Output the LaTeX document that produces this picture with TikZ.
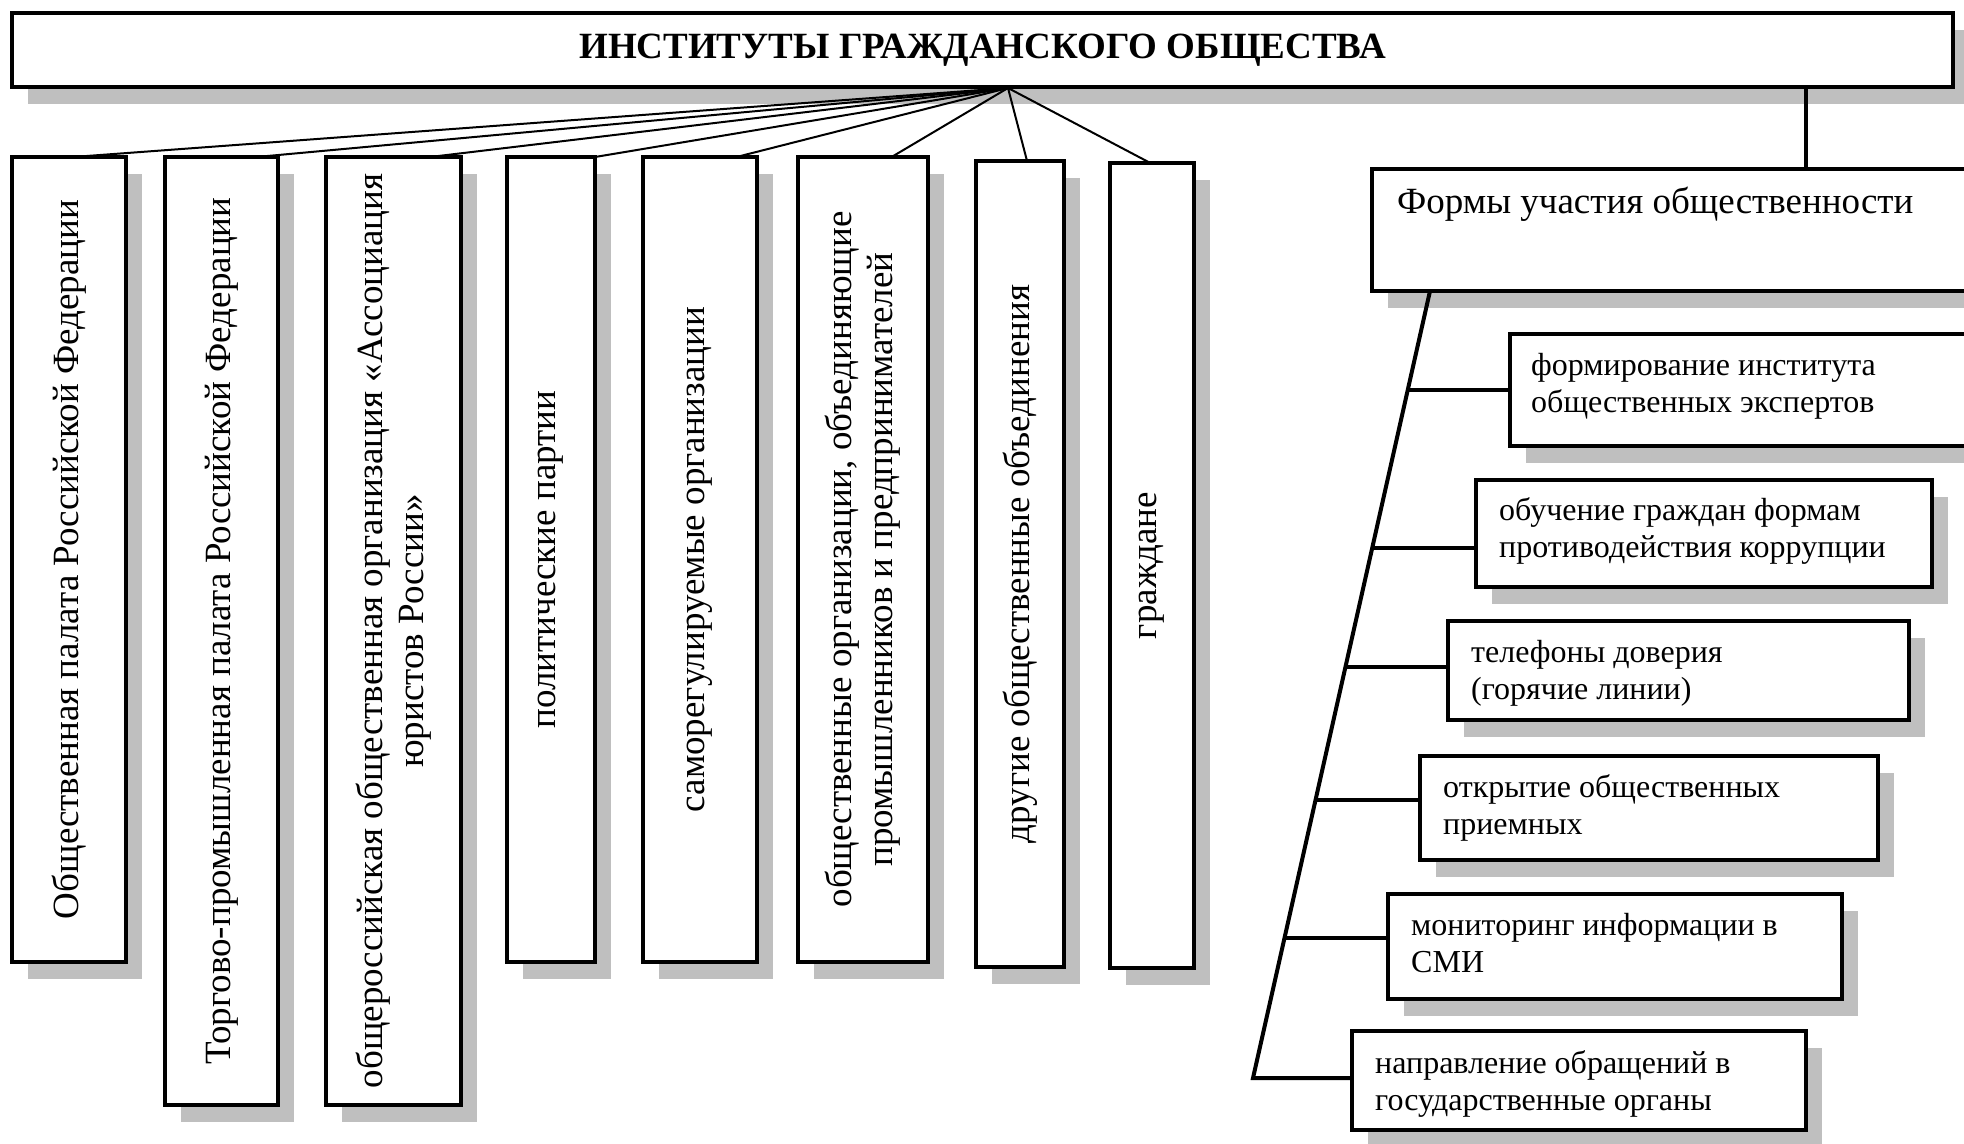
\documentclass[tikz,border=0pt]{standalone}
\usepackage{fontspec}
\setmainfont{Liberation Serif}
\usetikzlibrary{shadows,calc}
\definecolor{shd}{HTML}{BFBFBF}
\tikzset{
  bx/.style={draw=black, line width=4pt, fill=white, outer sep=0pt, inner sep=0pt,
    anchor=north west,
    drop shadow={shadow xshift=16pt, shadow yshift=-17pt, fill=shd, opacity=1}},
  vt/.style={rotate=90, align=center, inner sep=0pt, font=\fontsize{37}{41}\selectfont},
  ht/.style={align=left, anchor=west, inner sep=0pt, font=\fontsize{32}{37}\selectfont},
  fan/.style={line width=2pt},
  con/.style={line width=4pt},
}
\begin{document}
\begin{tikzpicture}[x=1pt,y=-1pt]
\useasboundingbox (0,0) rectangle (1964,1143);
\clip (0,0) rectangle (1964,1143);
% title
\node[bx, minimum width=1941pt, minimum height=74pt, font=\bfseries\fontsize{37}{40}\selectfont] (title) at (12,13) {ИНСТИТУТЫ ГРАЖДАНСКОГО ОБЩЕСТВА};
% vertical boxes
\node[bx, minimum width=114pt, minimum height=805pt] (v1) at (12,157) {};
\node[bx, minimum width=113pt, minimum height=948pt] (v2) at (165,157) {};
\node[bx, minimum width=135pt, minimum height=948pt] (v3) at (326,157) {};
\node[bx, minimum width=88pt, minimum height=805pt] (v4) at (507,157) {};
\node[bx, minimum width=114pt, minimum height=805pt] (v5) at (643,157) {};
\node[bx, minimum width=130pt, minimum height=805pt] (v6) at (798,157) {};
\node[bx, minimum width=88pt, minimum height=806pt] (v7) at (976,161) {};
\node[bx, minimum width=84pt, minimum height=805pt] (v8) at (1110,163) {};
\node[vt] (v1t) at (v1.center) {Общественная палата Российской Федерации};
\node[vt] (v2t) at (v2.center) {Торгово-промышленная палата Российской Федерации};
\node[vt] (v3t) at (v3.center) {общероссийская общественная организация «Ассоциация\\юристов России»};
\node[vt] (v4t) at (v4.center) {политические партии};
\node[vt] (v5t) at (v5.center) {саморегулируемые организации};
\node[vt] (v6t) at (v6.center) {общественные организации, объединяющие\\промышленников и предпринимателей};
\node[vt] (v7t) at (v7.center) {другие общественные объединения};
\node[vt] (v8t) at (v8.center) {граждане};
% fan
\coordinate (ap) at (1008,88);
\draw[fan] (ap) -- ($(v1.north west)!0.535!(v1.north east)$);
\draw[fan] (ap) -- ($(v2.north west)!0.81!(v2.north east)$);
\draw[fan] (ap) -- ($(v3.north west)!0.77!(v3.north east)$);
\draw[fan] (ap) -- (v4.north east);
\draw[fan] (ap) -- ($(v5.north west)!0.82!(v5.north east)$);
\draw[fan] (ap) -- ($(v6.north west)!0.72!(v6.north east)$);
\draw[fan] (ap) -- ($(v7.north west)!0.58!(v7.north east)$);
\draw[fan] (ap) -- ($(v8.north west)!0.48!(v8.north east)$);
% right part
\node[bx, minimum width=700pt, minimum height=122pt] (forms) at (1372,169) {};
\node[align=left, inner sep=0pt, font=\fontsize{37}{40}\selectfont, anchor=base west] (formst) at (1397,213) {Формы участия общественности};
\coordinate (tf) at (1806,0);
\draw[con] (title.south -| tf) -- (forms.north -| tf);
\node[bx, minimum width=600pt, minimum height=112pt] (a) at (1510,334) {};
\node[bx, minimum width=456pt, minimum height=107pt] (b) at (1476,480) {};
\node[bx, minimum width=461pt, minimum height=99pt] (c) at (1448,621) {};
\node[bx, minimum width=458pt, minimum height=104pt] (d) at (1420,756) {};
\node[bx, minimum width=454pt, minimum height=105pt] (e) at (1388,894) {};
\node[bx, minimum width=454pt, minimum height=99pt] (f) at (1352,1031) {};
\node[ht] (at) at ($(a.west)+(21,-4)$) {формирование института\\общественных экспертов};
\node[ht] (bt) at ($(b.west)+(23,-3)$) {обучение граждан формам\\противодействия коррупции};
\node[ht] (ct) at ($(c.west)+(23,3)$) {телефоны доверия\\(горячие линии)};
\node[ht] (dt) at ($(d.west)+(23,0)$) {открытие общественных\\приемных};
\node[ht] (et) at ($(e.west)+(23,-3)$) {мониторинг информации в\\СМИ};
\node[ht] (ft) at ($(f.west)+(23,3)$) {направление обращений в\\государственные органы};
\coordinate (st) at (1430,291);
\coordinate (sb) at (1253,1078);
\draw[con, line join=miter] (st) -- (sb) -- (sb -| f.west);
\coordinate (pa) at ($(st)!0.1258!(sb)$);
\coordinate (pb) at ($(st)!0.3266!(sb)$);
\coordinate (pc) at ($(st)!0.4778!(sb)$);
\coordinate (pd) at ($(st)!0.6468!(sb)$);
\coordinate (pe) at ($(st)!0.8221!(sb)$);
\draw[con] (pa) -- (pa -| a.west);
\draw[con] (pb) -- (pb -| b.west);
\draw[con] (pc) -- (pc -| c.west);
\draw[con] (pd) -- (pd -| d.west);
\draw[con] (pe) -- (pe -| e.west);
\end{tikzpicture}
\end{document}
